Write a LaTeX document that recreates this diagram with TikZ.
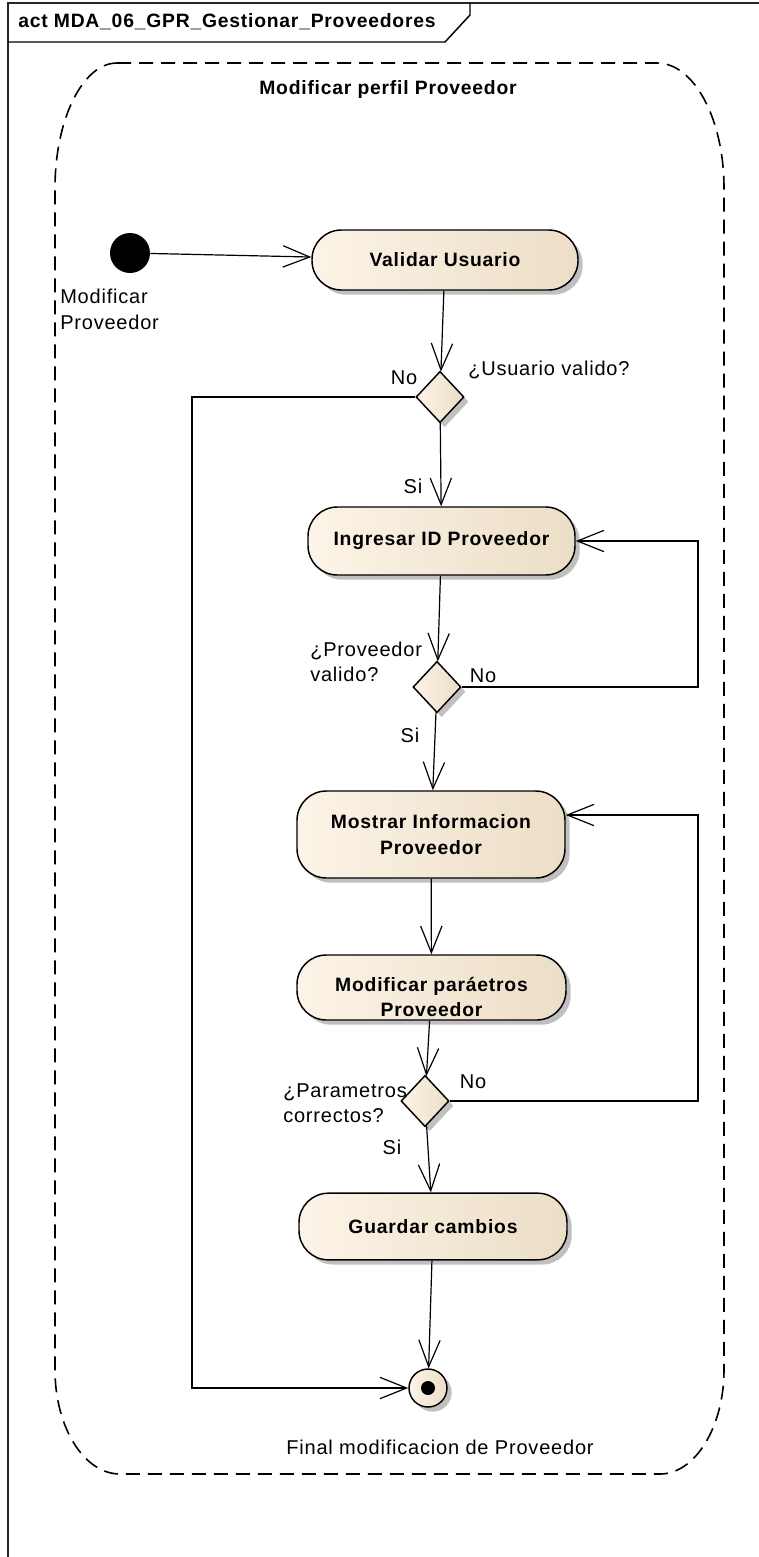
\documentclass[tikz,border=0pt]{standalone}
\usepackage{fontspec}
\setmainfont[LetterSpace=4]{Liberation Sans}
\usetikzlibrary{arrows.meta,shapes.geometric,shadows,calc}
\definecolor{fillL}{RGB}{252,244,232}
\definecolor{fillR}{RGB}{236,222,198}
\definecolor{shad}{RGB}{192,192,192}
\begin{document}
\begin{tikzpicture}[x=0.75pt,y=-0.75pt,
  shadowed/.style={drop shadow={shadow xshift=3.5pt,shadow yshift=-3.5pt,fill=shad,opacity=1}},
  act/.style={draw=black, line width=1.1pt, rounded corners=22pt, left color=fillL, right color=fillR,
    shadowed, font=\fontsize{14.5pt}{19.5pt}\selectfont\bfseries, align=center, inner sep=0pt},
  acttext/.style={font=\fontsize{14.5pt}{19pt}\selectfont\bfseries, align=center, inner sep=0pt},
  dec/.style={diamond, draw=black, line width=1.1pt, left color=fillL, right color=fillR, shadowed,
    minimum width=36pt, minimum height=38.5pt, inner sep=0pt},
  arr/.style={line width=0.9pt, -{Straight Barb[length=20pt,width=16pt]}},
  lbl/.style={font=\fontsize{15pt}{19pt}\selectfont, inner sep=0pt},
  ttl/.style={font=\fontsize{14.5pt}{18pt}\selectfont\bfseries, inner sep=0pt},
  frame/.style={line width=1.6pt, draw=black!85},
  region/.style={line width=1.2pt, dash pattern=on 10.5pt off 6pt}]
\useasboundingbox (0,0) rectangle (759,1557);

% frame
\draw[frame] (8,1557) -- (8,3) -- (759,3);
\draw[line width=1.1pt] (8,42) -- (445,42) -- (470,15) -- (470,3);
\node[ttl, anchor=west] (title) at (18,22) {act MDA\_06\_GPR\_Gestionar\_Proveedores};

% region
\draw[region] (117,63) -- (657,63) .. controls (694,63) and (724,119) .. (724,188)
  -- (724,1370) .. controls (724,1427) and (695,1474) .. (660,1474)
  -- (120,1474) .. controls (84,1474) and (55,1427) .. (55,1370)
  -- (55,188) .. controls (55,119) and (83,63) .. (117,63);
\node[ttl] (regionlbl) at (388,89) {Modificar perfil Proveedor};

% nodes
\node[circle, fill=black, minimum size=30pt, inner sep=0pt] (init) at (130,253) {};
\node[act, minimum width=199.5pt, minimum height=45pt] (validar) at (445,260) {Validar Usuario};
\node[dec] (d1) at (440,397) {};
\node[act, minimum width=200.25pt, minimum height=51pt] (ingresar) at (441.5,541) {Ingresar ID Proveedor};
\node[dec] (d2) at (437,687) {};
\node[act, minimum width=201pt, minimum height=65.25pt] (mostrar) at (431,834.5) {Mostrar Informacion\\Proveedor};
\node[act, minimum width=201.75pt, minimum height=48.75pt] (modificar) at (431.5,987.5) {};
\node[acttext] (modtext) at (431.5,997) {Modificar paráetros\\Proveedor};
\node[dec] (d3) at (425,1101) {};
\node[act, minimum width=201pt, minimum height=50pt] (guardar) at (433,1226.5) {Guardar cambios};
\node[circle, draw=black, line width=1.1pt, left color=fillL, right color=fillR, shadowed,
  minimum size=28.5pt, inner sep=0pt] (final) at (428,1388) {};
\node[circle, fill=black, minimum size=10.5pt, inner sep=0pt] (finaldot) at (final.center) {};

% labels
\node[lbl, anchor=north west, align=left] (startlbl) at (60,289) {Modificar\\Proveedor};
\node[lbl, anchor=west] (q1) at (468,370) {¿Usuario valido?};
\node[lbl] (no1) at (404,378) {No};
\node[lbl] (si1) at (413,486) {Si};
\node[lbl, anchor=west, align=left] (q2) at (310,662) {¿Proveedor\\valido?};
\node[lbl] (no2) at (483,676) {No};
\node[lbl] (si2) at (410,735) {Si};
\node[lbl, anchor=west, align=left] (q3) at (283,1103) {¿Parametros\\correctos?};
\node[lbl] (no3) at (473,1082) {No};
\node[lbl] (si3) at (392,1147) {Si};
\node[lbl] (finallbl) at (440,1447) {Final modificacion de Proveedor};

% connectors
\coordinate (c1) at (192,397);
\coordinate (c2) at (698,687);
\coordinate (c3) at (698,1101);
\coordinate (c3t) at (698,815);
\draw[arr] (init) -- (validar);
\draw[arr] (validar) -- (d1);
\draw[arr] (d1) -- (ingresar);
\draw[arr] (d1.west) -- (c1) |- (final);
\draw[arr] (ingresar) -- (d2);
\draw[arr] (d2.east) -- (c2) |- (ingresar.east);
\draw[arr] (d2) -- (mostrar);
\draw[arr] (mostrar) -- (modificar);
\draw[arr] (modificar) -- (d3);
\draw[arr] (d3.east) -- (c3) -- (c3t) -- (c3t -| mostrar.east);
\draw[arr] (d3) -- (guardar);
\draw[arr] (guardar) -- (final);
\end{tikzpicture}
\end{document}
